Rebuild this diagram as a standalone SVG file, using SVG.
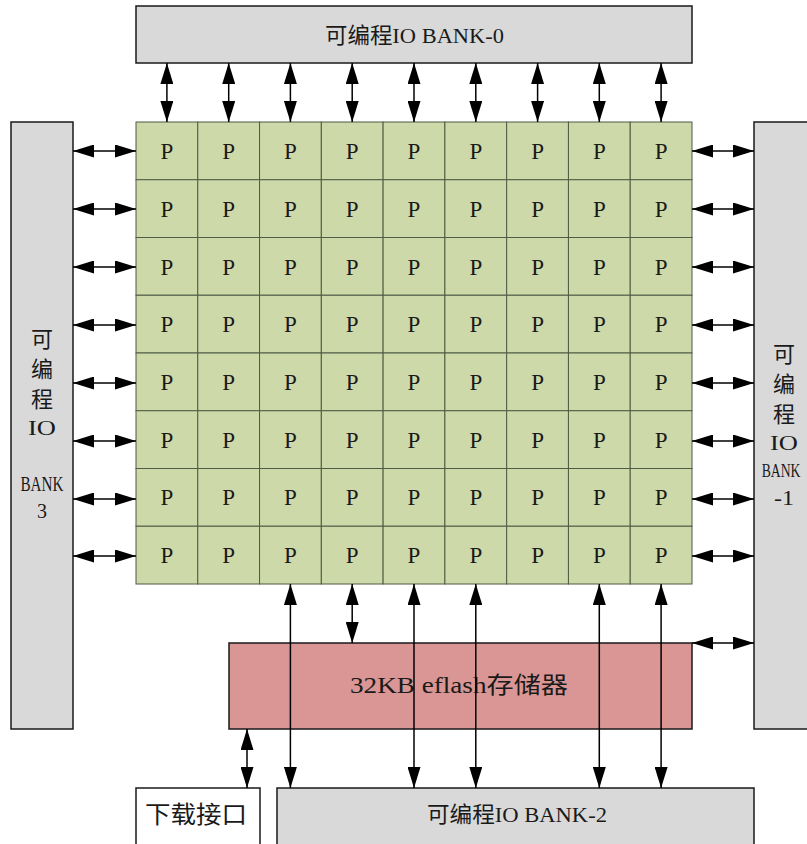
<svg xmlns="http://www.w3.org/2000/svg" width="807" height="844" viewBox="0 0 807 844">
<style>
.bank{fill:#d9d9d9;stroke:#1a1a1a;stroke-width:1.5}
.cell{fill:#cdd9a9;stroke:#4f5b44;stroke-width:1}
.flash{fill:#d99694;stroke:#1a1a1a;stroke-width:1.5}
.dl{fill:#ffffff;stroke:#1a1a1a;stroke-width:1.5}
.t{font-family:"Liberation Serif","Noto Sans CJK SC",serif;fill:#1a1a1a;text-anchor:middle}
.p{font-size:23px}
.c{fill:none;stroke:#000;stroke-width:1.5;marker-start:url(#ah);marker-end:url(#ah)}
</style>
<defs>
<marker id="ah" viewBox="0 0 21 13" markerUnits="userSpaceOnUse" markerWidth="21" markerHeight="13" refX="21" refY="6.5" orient="auto-start-reverse">
<path d="M0,0 L21,6.5 L0,13 z" fill="#000"/>
</marker>
</defs>

<g id="bank0">
<rect class="bank" x="136" y="6" width="556" height="57"/>
<text class="t" x="414.5" y="43" font-size="22" textLength="179" lengthAdjust="spacingAndGlyphs">可编程IO BANK-0</text>
</g>

<g id="bank3">
<rect class="bank" x="11" y="122" width="62" height="607"/>
<text class="t" x="42" y="347" font-size="22">可</text>
<text class="t" x="42" y="377" font-size="22">编</text>
<text class="t" x="42" y="407" font-size="22">程</text>
<text class="t" x="42" y="435" font-size="21" textLength="28" lengthAdjust="spacingAndGlyphs">IO</text>
<text class="t" x="42" y="491" font-size="20" textLength="43" lengthAdjust="spacingAndGlyphs">BANK</text>
<text class="t" x="42" y="518" font-size="20">3</text>
</g>

<g id="bank1">
<rect class="bank" x="754" y="122" width="60" height="607"/>
<text class="t" x="784" y="362" font-size="22">可</text>
<text class="t" x="784" y="392" font-size="22">编</text>
<text class="t" x="784" y="422" font-size="22">程</text>
<text class="t" x="784" y="450" font-size="21" textLength="28" lengthAdjust="spacingAndGlyphs">IO</text>
<text class="t" x="0" y="0" font-size="19" transform="translate(781 477) scale(0.72 1)">BANK</text>
<text class="t" x="784" y="505" font-size="20" textLength="20" lengthAdjust="spacingAndGlyphs">-1</text>
</g>

<g id="array">
<g id="r1">
<rect class="cell" x="136" y="122" width="61.78" height="57.75"/><rect class="cell" x="197.78" y="122" width="61.78" height="57.75"/><rect class="cell" x="259.56" y="122" width="61.78" height="57.75"/><rect class="cell" x="321.33" y="122" width="61.78" height="57.75"/><rect class="cell" x="383.11" y="122" width="61.78" height="57.75"/><rect class="cell" x="444.89" y="122" width="61.78" height="57.75"/><rect class="cell" x="506.67" y="122" width="61.78" height="57.75"/><rect class="cell" x="568.44" y="122" width="61.78" height="57.75"/><rect class="cell" x="630.22" y="122" width="61.78" height="57.75"/>
</g>
<g id="r2">
<rect class="cell" x="136" y="179.75" width="61.78" height="57.75"/><rect class="cell" x="197.78" y="179.75" width="61.78" height="57.75"/><rect class="cell" x="259.56" y="179.75" width="61.78" height="57.75"/><rect class="cell" x="321.33" y="179.75" width="61.78" height="57.75"/><rect class="cell" x="383.11" y="179.75" width="61.78" height="57.75"/><rect class="cell" x="444.89" y="179.75" width="61.78" height="57.75"/><rect class="cell" x="506.67" y="179.75" width="61.78" height="57.75"/><rect class="cell" x="568.44" y="179.75" width="61.78" height="57.75"/><rect class="cell" x="630.22" y="179.75" width="61.78" height="57.75"/>
</g>
<g id="r3">
<rect class="cell" x="136" y="237.5" width="61.78" height="57.75"/><rect class="cell" x="197.78" y="237.5" width="61.78" height="57.75"/><rect class="cell" x="259.56" y="237.5" width="61.78" height="57.75"/><rect class="cell" x="321.33" y="237.5" width="61.78" height="57.75"/><rect class="cell" x="383.11" y="237.5" width="61.78" height="57.75"/><rect class="cell" x="444.89" y="237.5" width="61.78" height="57.75"/><rect class="cell" x="506.67" y="237.5" width="61.78" height="57.75"/><rect class="cell" x="568.44" y="237.5" width="61.78" height="57.75"/><rect class="cell" x="630.22" y="237.5" width="61.78" height="57.75"/>
</g>
<g id="r4">
<rect class="cell" x="136" y="295.25" width="61.78" height="57.75"/><rect class="cell" x="197.78" y="295.25" width="61.78" height="57.75"/><rect class="cell" x="259.56" y="295.25" width="61.78" height="57.75"/><rect class="cell" x="321.33" y="295.25" width="61.78" height="57.75"/><rect class="cell" x="383.11" y="295.25" width="61.78" height="57.75"/><rect class="cell" x="444.89" y="295.25" width="61.78" height="57.75"/><rect class="cell" x="506.67" y="295.25" width="61.78" height="57.75"/><rect class="cell" x="568.44" y="295.25" width="61.78" height="57.75"/><rect class="cell" x="630.22" y="295.25" width="61.78" height="57.75"/>
</g>
<g id="r5">
<rect class="cell" x="136" y="353" width="61.78" height="57.75"/><rect class="cell" x="197.78" y="353" width="61.78" height="57.75"/><rect class="cell" x="259.56" y="353" width="61.78" height="57.75"/><rect class="cell" x="321.33" y="353" width="61.78" height="57.75"/><rect class="cell" x="383.11" y="353" width="61.78" height="57.75"/><rect class="cell" x="444.89" y="353" width="61.78" height="57.75"/><rect class="cell" x="506.67" y="353" width="61.78" height="57.75"/><rect class="cell" x="568.44" y="353" width="61.78" height="57.75"/><rect class="cell" x="630.22" y="353" width="61.78" height="57.75"/>
</g>
<g id="r6">
<rect class="cell" x="136" y="410.75" width="61.78" height="57.75"/><rect class="cell" x="197.78" y="410.75" width="61.78" height="57.75"/><rect class="cell" x="259.56" y="410.75" width="61.78" height="57.75"/><rect class="cell" x="321.33" y="410.75" width="61.78" height="57.75"/><rect class="cell" x="383.11" y="410.75" width="61.78" height="57.75"/><rect class="cell" x="444.89" y="410.75" width="61.78" height="57.75"/><rect class="cell" x="506.67" y="410.75" width="61.78" height="57.75"/><rect class="cell" x="568.44" y="410.75" width="61.78" height="57.75"/><rect class="cell" x="630.22" y="410.75" width="61.78" height="57.75"/>
</g>
<g id="r7">
<rect class="cell" x="136" y="468.5" width="61.78" height="57.75"/><rect class="cell" x="197.78" y="468.5" width="61.78" height="57.75"/><rect class="cell" x="259.56" y="468.5" width="61.78" height="57.75"/><rect class="cell" x="321.33" y="468.5" width="61.78" height="57.75"/><rect class="cell" x="383.11" y="468.5" width="61.78" height="57.75"/><rect class="cell" x="444.89" y="468.5" width="61.78" height="57.75"/><rect class="cell" x="506.67" y="468.5" width="61.78" height="57.75"/><rect class="cell" x="568.44" y="468.5" width="61.78" height="57.75"/><rect class="cell" x="630.22" y="468.5" width="61.78" height="57.75"/>
</g>
<g id="r8">
<rect class="cell" x="136" y="526.25" width="61.78" height="57.75"/><rect class="cell" x="197.78" y="526.25" width="61.78" height="57.75"/><rect class="cell" x="259.56" y="526.25" width="61.78" height="57.75"/><rect class="cell" x="321.33" y="526.25" width="61.78" height="57.75"/><rect class="cell" x="383.11" y="526.25" width="61.78" height="57.75"/><rect class="cell" x="444.89" y="526.25" width="61.78" height="57.75"/><rect class="cell" x="506.67" y="526.25" width="61.78" height="57.75"/><rect class="cell" x="568.44" y="526.25" width="61.78" height="57.75"/><rect class="cell" x="630.22" y="526.25" width="61.78" height="57.75"/>
</g>
<g id="labels" class="t p">
<text x="166.9" y="159">P</text><text x="228.7" y="159">P</text><text x="290.4" y="159">P</text><text x="352.2" y="159">P</text><text x="414" y="159">P</text><text x="475.8" y="159">P</text><text x="537.6" y="159">P</text><text x="599.3" y="159">P</text><text x="661.1" y="159">P</text>
<text x="166.9" y="217">P</text><text x="228.7" y="217">P</text><text x="290.4" y="217">P</text><text x="352.2" y="217">P</text><text x="414" y="217">P</text><text x="475.8" y="217">P</text><text x="537.6" y="217">P</text><text x="599.3" y="217">P</text><text x="661.1" y="217">P</text>
<text x="166.9" y="275">P</text><text x="228.7" y="275">P</text><text x="290.4" y="275">P</text><text x="352.2" y="275">P</text><text x="414" y="275">P</text><text x="475.8" y="275">P</text><text x="537.6" y="275">P</text><text x="599.3" y="275">P</text><text x="661.1" y="275">P</text>
<text x="166.9" y="332">P</text><text x="228.7" y="332">P</text><text x="290.4" y="332">P</text><text x="352.2" y="332">P</text><text x="414" y="332">P</text><text x="475.8" y="332">P</text><text x="537.6" y="332">P</text><text x="599.3" y="332">P</text><text x="661.1" y="332">P</text>
<text x="166.9" y="390">P</text><text x="228.7" y="390">P</text><text x="290.4" y="390">P</text><text x="352.2" y="390">P</text><text x="414" y="390">P</text><text x="475.8" y="390">P</text><text x="537.6" y="390">P</text><text x="599.3" y="390">P</text><text x="661.1" y="390">P</text>
<text x="166.9" y="448">P</text><text x="228.7" y="448">P</text><text x="290.4" y="448">P</text><text x="352.2" y="448">P</text><text x="414" y="448">P</text><text x="475.8" y="448">P</text><text x="537.6" y="448">P</text><text x="599.3" y="448">P</text><text x="661.1" y="448">P</text>
<text x="166.9" y="505">P</text><text x="228.7" y="505">P</text><text x="290.4" y="505">P</text><text x="352.2" y="505">P</text><text x="414" y="505">P</text><text x="475.8" y="505">P</text><text x="537.6" y="505">P</text><text x="599.3" y="505">P</text><text x="661.1" y="505">P</text>
<text x="166.9" y="563">P</text><text x="228.7" y="563">P</text><text x="290.4" y="563">P</text><text x="352.2" y="563">P</text><text x="414" y="563">P</text><text x="475.8" y="563">P</text><text x="537.6" y="563">P</text><text x="599.3" y="563">P</text><text x="661.1" y="563">P</text>
</g>
</g>

<g id="eflash">
<rect class="flash" x="229" y="643" width="463" height="86"/>
<text class="t" x="459" y="693" font-size="23" textLength="218" lengthAdjust="spacingAndGlyphs">32KB eflash存储器</text>
</g>

<g id="download">
<rect class="dl" x="136" y="788" width="124" height="70"/>
<text class="t" x="196" y="823" font-size="24" textLength="102" lengthAdjust="spacingAndGlyphs">下载接口</text>
</g>

<g id="bank2">
<rect class="bank" x="277" y="788" width="477" height="70"/>
<text class="t" x="517" y="822" font-size="22" textLength="180" lengthAdjust="spacingAndGlyphs">可编程IO BANK-2</text>
</g>

<g id="connectors">
<line class="c" x1="166.9" y1="63" x2="166.9" y2="122"/>
<line class="c" x1="228.7" y1="63" x2="228.7" y2="122"/>
<line class="c" x1="290.4" y1="63" x2="290.4" y2="122"/>
<line class="c" x1="352.2" y1="63" x2="352.2" y2="122"/>
<line class="c" x1="414" y1="63" x2="414" y2="122"/>
<line class="c" x1="475.8" y1="63" x2="475.8" y2="122"/>
<line class="c" x1="537.6" y1="63" x2="537.6" y2="122"/>
<line class="c" x1="599.3" y1="63" x2="599.3" y2="122"/>
<line class="c" x1="661.1" y1="63" x2="661.1" y2="122"/>

<line class="c" x1="73" y1="151" x2="136" y2="151"/>
<line class="c" x1="73" y1="209" x2="136" y2="209"/>
<line class="c" x1="73" y1="267" x2="136" y2="267"/>
<line class="c" x1="73" y1="325" x2="136" y2="325"/>
<line class="c" x1="73" y1="383" x2="136" y2="383"/>
<line class="c" x1="73" y1="441" x2="136" y2="441"/>
<line class="c" x1="73" y1="499" x2="136" y2="499"/>
<line class="c" x1="73" y1="556" x2="136" y2="556"/>

<line class="c" x1="692" y1="151" x2="754" y2="151"/>
<line class="c" x1="692" y1="209" x2="754" y2="209"/>
<line class="c" x1="692" y1="267" x2="754" y2="267"/>
<line class="c" x1="692" y1="325" x2="754" y2="325"/>
<line class="c" x1="692" y1="383" x2="754" y2="383"/>
<line class="c" x1="692" y1="441" x2="754" y2="441"/>
<line class="c" x1="692" y1="499" x2="754" y2="499"/>
<line class="c" x1="692" y1="556" x2="754" y2="556"/>
<line class="c" x1="692" y1="643" x2="754" y2="643"/>

<line class="c" x1="290.4" y1="584" x2="290.4" y2="788"/>
<line class="c" x1="352.2" y1="584" x2="352.2" y2="643"/>
<line class="c" x1="414" y1="584" x2="414" y2="788"/>
<line class="c" x1="475.8" y1="584" x2="475.8" y2="788"/>
<line class="c" x1="599.3" y1="584" x2="599.3" y2="788"/>
<line class="c" x1="661.1" y1="584" x2="661.1" y2="788"/>
<line class="c" x1="247" y1="729" x2="247" y2="788"/>
</g>
</svg>
